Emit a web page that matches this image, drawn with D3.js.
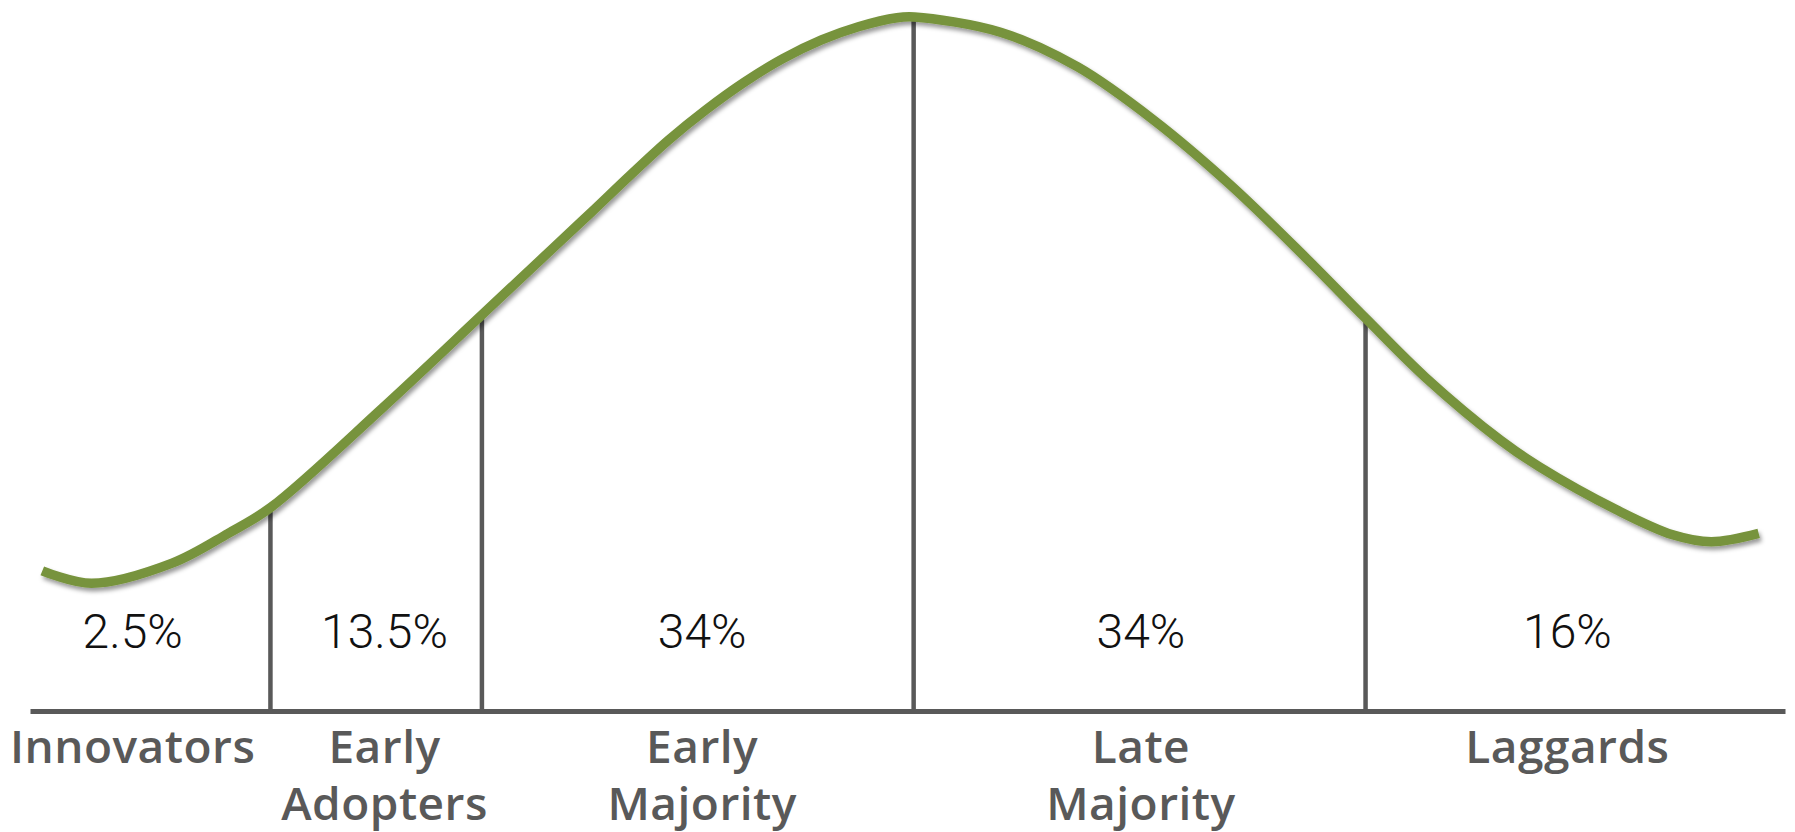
<!DOCTYPE html>
<html>
<head>
<meta charset="utf-8">
<script src="https://cdn.jsdelivr.net/npm/d3@7"></script>
<style>
  html, body { margin: 0; padding: 0; background: #fff; }
  #chart { width: 1795px; height: 832px; }
</style>
</head>
<body>
<div id="chart"></div>
<script>
'use strict';
// adoption curve (x: % of axis width, y: % of peak height)
const curveX = [0.7, 3.5, 8.1, 11.3, 13.7, 20.1, 25.8, 29.8, 32.0, 34.2, 36.4, 38.5, 40.7, 42.9, 45.1, 47.2, 49.4, 50.4,
  55.3, 59.7, 64.0, 68.4, 72.7, 76.1, 79.5, 83.8, 86.0, 90.4, 93.6, 95.8, 98.5];
const curveY = [20.2, 18.4, 21.3, 25.6, 29.3, 43.7, 57.2, 66.7, 71.9, 77.2, 82.3, 86.6, 90.6, 94.0, 96.7, 98.6, 99.9, 100,
  97.8, 92.8, 85.2, 75.8, 65.3, 56.6, 48.1, 39.0, 35.2, 29.0, 25.4, 24.4, 25.6];
// where the segments are split
const dividers = [13.7, 25.75, 50.35, 76.1];
// segments
const groups = [["Innovators"], ["Early", "Adopters"], ["Early", "Majority"], ["Late", "Majority"], ["Laggards"]];
const shares = [2.5, 13.5, 34, 34, 16];
const labelX = [5.85, 20.2, 38.3, 63.3, 87.6];

function drawCurve(divId) {
  let width = 1795, height = 832;
  let baseY = 711, topY = 17;
  let green = "#77933c", grey = "#595959";

  let svg = d3.select("#" + divId).append("svg")
    .attr("width", width)
    .attr("height", height);

  let x = d3.scaleLinear().domain([0, 100]).range([30, 1785]);
  let y = d3.scaleLinear().domain([0, 100]).range([baseY, topY]);

  let defs = svg.append("defs");
  defs.append("filter")
    .attr("id", "shadow")
    .attr("x", "-5%").attr("y", "-5%")
    .attr("width", "110%").attr("height", "120%")
    .append("feDropShadow")
    .attr("dx", 2).attr("dy", 3.5)
    .attr("stdDeviation", 2.2)
    .attr("flood-color", "#000")
    .attr("flood-opacity", 0.4);

  let points = curveX.map((v, i) => [v, curveY[i]]);
  let line = d3.line()
    .x(d => x(d[0]))
    .y(d => y(d[1]))
    .curve(d3.curveCatmullRom.alpha(0.5));

  // hidden copy of the curve, used to find where the dividers meet it
  let probe = svg.append("path").attr("d", line(points)).attr("fill", "none").attr("stroke", "none");
  let node = probe.node(), total = node.getTotalLength();
  function curveAt(px) {
    let lo = 0, hi = total;
    for (let k = 0; k < 40; ++k) {
      let mid = (lo + hi) / 2;
      if (node.getPointAtLength(mid).x < px) lo = mid; else hi = mid;
    }
    return node.getPointAtLength(lo).y;
  }

  // x axis line
  let axis = d3.axisBottom(x).tickValues([]).tickSizeOuter(0);
  let ax = svg.append("g")
    .attr("transform", "translate(0," + baseY + ")")
    .call(axis);
  ax.select(".domain")
    .attr("stroke", grey)
    .attr("stroke-width", 5);

  svg.append("g").selectAll("line")
    .data(dividers)
    .enter()
    .append("line")
    .attr("x1", d => x(d)).attr("x2", d => x(d))
    .attr("y1", baseY)
    .attr("y2", d => curveAt(x(d)))
    .attr("stroke", grey)
    .attr("stroke-width", 4.5);

  svg.append("path")
    .attr("d", line(points))
    .attr("fill", "none")
    .attr("stroke", green)
    .attr("stroke-width", 9.5)
    .attr("filter", "url(#shadow)");

  let fmt = d => d + "%";
  svg.append("g").selectAll("text")
    .data(shares)
    .enter()
    .append("text")
    .attr("x", (d, i) => x(labelX[i]))
    .attr("y", 648)
    .attr("text-anchor", "middle")
    .style("font-family", "Roboto, 'Open Sans', sans-serif")
    .style("font-weight", 300)
    .style("font-size", "48px")
    .attr("fill", "#111")
    .text(fmt);

  let names = svg.append("g").selectAll("text")
    .data(groups)
    .enter()
    .append("text")
    .attr("x", (d, i) => x(labelX[i]))
    .attr("y", 763)
    .attr("text-anchor", "middle")
    .style("font-family", "'Open Sans', sans-serif")
    .style("font-weight", 600)
    .style("font-size", "46px")
    .style("letter-spacing", "0.5px")
    .attr("fill", grey);
  names.each(function (d, i) {
    let t = d3.select(this);
    d.forEach(function (w, j) {
      t.append("tspan")
        .attr("x", x(labelX[i]))
        .attr("dy", j === 0 ? 0 : 57)
        .text(w);
    });
  });
}

drawCurve("chart");
</script>
</body>
</html>
